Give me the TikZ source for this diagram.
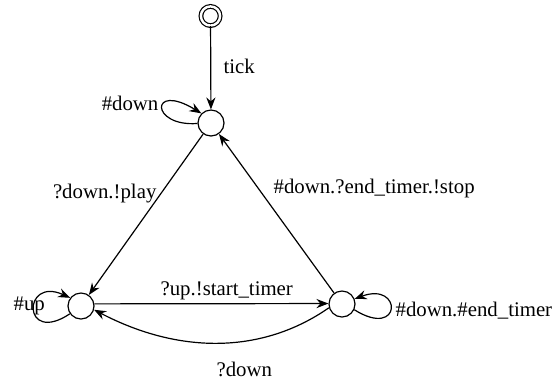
\documentclass[tikz,border=0pt]{standalone}
\usepackage{fontspec}
\setmainfont{Liberation Serif}
\usetikzlibrary{arrows.meta}
\begin{document}
\begin{tikzpicture}[x=0.5pt,y=-0.5pt,
  every path/.style={line width=0.6pt},
  state/.style={draw,circle,minimum size=13pt,inner sep=0pt},
  initstate/.style={draw,circle,double,double distance=1.2pt,minimum size=9.6pt,inner sep=0pt},
  lbl/.style={inner sep=0pt,font=\fontsize{10.4}{12}\selectfont},
  arr/.style={-{Stealth[length=6pt,width=4.6pt,inset=2pt]}}]
\useasboundingbox (0,0) rectangle (555,382);
\node[initstate] (init) at (210.5,16) {};
\node[state] (t) at (211,123) {};
\node[state] (l) at (81,306) {};
\node[state] (r) at (342,304) {};
% edges
\draw[arr] (init) -- (t);
\draw[arr] (t) -- (l);
\draw[arr] (r) -- (t);
\draw[arr] (l.9) -- (r.178);
\draw[arr] (r.196) .. controls +(-66,46) and +(86,45) .. (l.-16);
% loops
\draw[arr] (t.182) .. controls +(-47.5,3.5) and +(-51.5,-31.5) .. (t.135);
\draw[arr] (r.-25) .. controls +(48,30) and +(48,-18) .. (r.22);
\draw[arr] (l.215) .. controls +(-48,32) and +(-48,-22) .. (l.143);
% labels
\node[lbl,anchor=base west] (ltick) at (223,73) {tick};
\node[lbl,anchor=base east] (ldowntop) at (159,110) {\#down};
\node[lbl,anchor=base east] (lplay) at (157,198) {?down.!play};
\node[lbl,anchor=base west] (lstop) at (273,193) {\#down.?end\_timer.!stop};
\node[lbl,anchor=base west] (lstart) at (160,295) {?up.!start\_timer};
\node[lbl,anchor=base west] (ldownbot) at (216,376) {?down};
\node[lbl,anchor=base west] (lup) at (13,310) {\#up};
\node[lbl,anchor=base west] (lendt) at (395,316) {\#down.\#end\_timer};
\end{tikzpicture}
\end{document}
